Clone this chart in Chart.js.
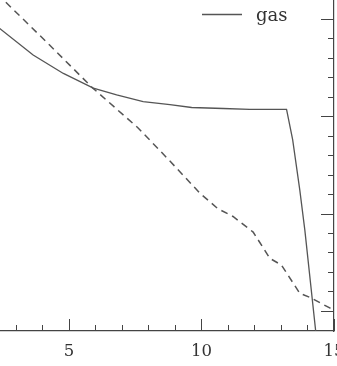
<!DOCTYPE html>
<html>
<head>
<meta charset="utf-8">
<script src="https://cdn.jsdelivr.net/npm/chart.js@4/dist/chart.umd.min.js"></script>
<style>
  html, body { margin: 0; padding: 0; background: #fff; overflow: hidden; }
  canvas { display: block; }
</style>
</head>
<body>
<canvas id="c" width="337" height="366"></canvas>
<script>
// ---- data ----
const gasX = [2.0, 2.40, 3.65, 4.79, 5.92, 6.80, 7.80, 8.81, 9.63, 10.82, 11.82, 13.21, 13.44, 13.71, 13.90, 14.31, 14.40];
const gasY = [2.99, 2.90, 2.63, 2.44, 2.29, 2.22, 2.15, 2.12, 2.09, 2.08, 2.07, 2.07, 1.76, 1.24, 0.83, -0.21, -0.35];
const otherX = [1.65, 4.28, 5.86, 7.61, 8.81, 9.94, 10.62, 11.19, 11.95, 12.58, 13.02, 13.71, 14.08, 14.84, 15.22];
const otherY = [3.43, 2.73, 2.30, 1.88, 1.54, 1.21, 1.05, 0.97, 0.81, 0.54, 0.47, 0.18, 0.14, 0.03, -0.03];
const xTickValues = [3, 4, 5, 6, 7, 8, 9, 10, 11, 12, 13, 14, 15];
const xTickLabels = ['5', '10', '15'];
const yMajorTicks = [0, 1, 2, 3];
const yMinorStep = 0.2;
const xRange = [2.4, 15];
const yRange = [-0.207, 3.195];
const legendLabel = 'gas';

const toPts = (xs, ys) => xs.map((x, i) => ({ x: x, y: ys[i] }));

const axisColor = '#444';
const textColor = '#333';

const tickPlugin = {
  id: 'innerTicks',
  afterDraw(chart) {
    const ctx = chart.ctx;
    const xs = chart.scales.x, ys = chart.scales.y;
    const area = chart.chartArea;
    ctx.save();
    ctx.strokeStyle = axisColor;
    ctx.lineWidth = 1;
    ctx.beginPath();
    xTickValues.forEach(v => {
      const px = Math.round(xs.getPixelForValue(v)) + 0.5;
      const len = (v % 5 === 0) ? 12 : 6;
      ctx.moveTo(px, area.bottom);
      ctx.lineTo(px, area.bottom - len);
    });
    const yMin = yRange[0], yMax = yRange[1];
    const start = Math.ceil(yMin / yMinorStep - 1e-9);
    const end = Math.floor(yMax / yMinorStep + 1e-9);
    for (let k = start; k <= end; k++) {
      const v = k * yMinorStep;
      const major = yMajorTicks.some(m => Math.abs(m - v) < 1e-6);
      const py = Math.round(ys.getPixelForValue(v)) + 0.5;
      ctx.moveTo(area.right, py);
      ctx.lineTo(area.right - (major ? 13 : 6), py);
    }
    ctx.stroke();

    // legend inside the plot
    const lx = area.right - 132, ly = area.top + 14.5;
    ctx.strokeStyle = '#555';
    ctx.lineWidth = 1.3;
    ctx.setLineDash([]);
    ctx.beginPath();
    ctx.moveTo(lx, ly);
    ctx.lineTo(lx + 40, ly);
    ctx.stroke();
    ctx.fillStyle = textColor;
    ctx.font = '18px "DejaVu Serif"';
    ctx.textBaseline = 'alphabetic';
    ctx.textAlign = 'left';
    ctx.fillText(legendLabel, lx + 54, area.top + 21);
    ctx.restore();
  }
};

new Chart(document.getElementById('c'), {
  type: 'line',
  data: {
    datasets: [
      {
        label: legendLabel,
        data: toPts(gasX, gasY),
        borderColor: '#555',
        borderWidth: 1.3,
        pointRadius: 0,
        tension: 0,
        fill: false,
        clip: 0
      },
      {
        label: 'other',
        data: toPts(otherX, otherY),
        borderColor: '#555',
        borderWidth: 1.5,
        borderDash: [7, 5],
        pointRadius: 0,
        tension: 0,
        fill: false,
        clip: 0
      }
    ]
  },
  options: {
    responsive: false,
    devicePixelRatio: 1,
    animation: false,
    events: [],
    layout: { padding: 0 },
    plugins: { legend: { display: false }, tooltip: { enabled: false } },
    scales: {
      x: {
        type: 'linear',
        position: 'bottom',
        min: xRange[0],
        max: xRange[1],
        grid: { display: false, drawTicks: false },
        border: { display: true, color: axisColor, width: 1.2 },
        afterBuildTicks(scale) {
          scale.ticks = xTickValues.map(v => ({ value: v }));
        },
        ticks: {
          autoSkip: false,
          maxRotation: 0,
          padding: 11,
          color: textColor,
          font: { family: '"DejaVu Serif"', size: 16.5 },
          callback: (v) => xTickLabels.includes(String(v)) ? String(v) : ''
        },
        afterFit(scale) {
          scale.height = 35;
          scale.paddingLeft = 0;
          scale.paddingRight = 0;
        }
      },
      y: {
        type: 'linear',
        position: 'right',
        min: yRange[0],
        max: yRange[1],
        grid: { display: false, drawTicks: false },
        border: { display: true, color: axisColor, width: 1.2 },
        ticks: { display: false },
        afterFit(scale) {
          scale.width = 3;
          scale.paddingTop = 0;
          scale.paddingBottom = 0;
        }
      }
    }
  },
  plugins: [tickPlugin]
});
</script>
</body>
</html>
